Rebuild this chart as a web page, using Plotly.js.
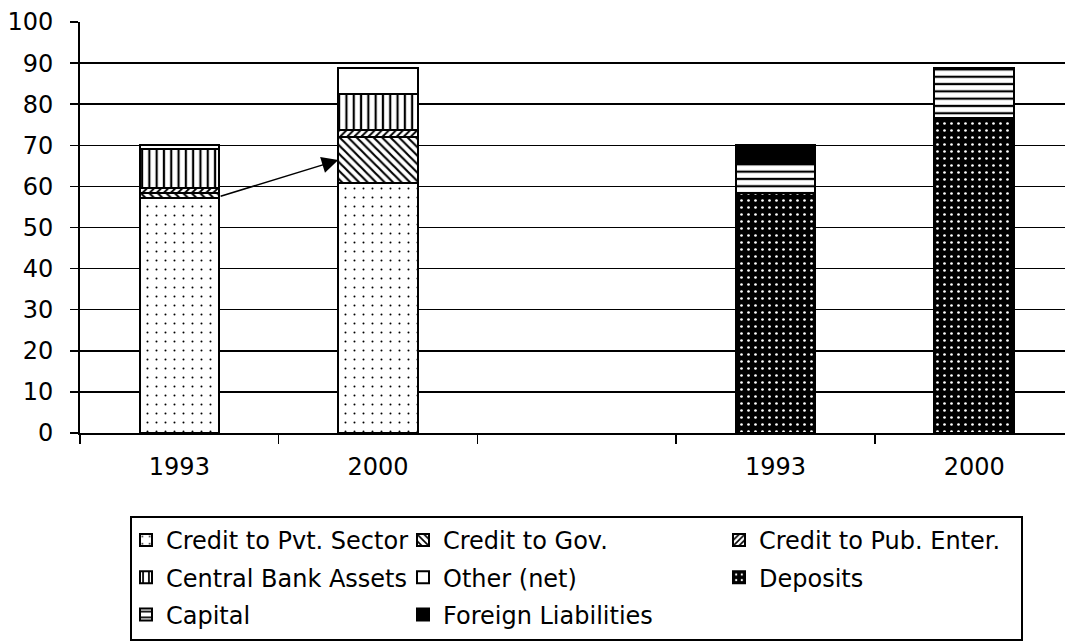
<!DOCTYPE html>
<html>
<head>
<meta charset="utf-8">
<script src="https://cdn.plot.ly/plotly-3.0.1.min.js"></script>
<style>html,body{margin:0;padding:0;background:#fff;overflow:hidden}</style>
</head>
<body>
<div id="chart" style="width:1065px;height:644px"></div>
<script>
// ---- data ----
const categories = ['A1993', 'A2000', 'gap', 'L1993', 'L2000'];
const tickLabels = ['1993', '2000', '', '1993', '2000'];
const assetX = ['A1993', 'A2000'];
const liabX = ['L1993', 'L2000'];

const creditPvt = [57.2, 60.8];
const creditGov = [1.2, 11.2];
const creditPubEnter = [1.3, 1.7];
const centralBankAssets = [9.3, 8.8];
const otherNet = [1.0, 6.3];

const deposits = [58.5, 76.6];
const capital = [7.3, 12.2];
const foreignLiab = [4.2, 0];

const seriesNames = ['Credit to Pvt. Sector', 'Credit to Gov.', 'Credit to Pub. Enter.',
  'Central Bank Assets', 'Other (net)', 'Deposits', 'Capital', 'Foreign Liabilities'];

// ---- styling ----
const FONT = {family: 'DejaVu Sans, Verdana, sans-serif', size: 24, color: '#000'};
const outline = {color: '#000', width: 2};

function bar(name, x, y, bg, pattern, legend, idx) {
  const m = {color: bg, line: outline};
  if (pattern) m.pattern = Object.assign({fillmode: 'replace', bgcolor: bg}, pattern);
  return {type: 'bar', name: name, x: x, y: y, marker: m, width: 0.4,
          legend: legend, legendgroup: 'g' + idx, hoverinfo: 'skip'};
}

const traces = [
  bar(seriesNames[0], assetX, creditPvt, '#fff', {shape: '.', fgcolor: '#000', size: 9, solidity: 0.04}, 'legend', 0),
  bar(seriesNames[1], assetX, creditGov, '#fff', {shape: '\\', fgcolor: '#000', size: 6, solidity: 0.35}, 'legend2', 1),
  bar(seriesNames[2], assetX, creditPubEnter, '#fff', {shape: '/', fgcolor: '#000', size: 5, solidity: 0.4}, 'legend3', 2),
  bar(seriesNames[3], assetX, centralBankAssets, '#fff', {shape: '|', fgcolor: '#000', size: 7.3, solidity: 0.3}, 'legend', 3),
  bar(seriesNames[4], assetX, otherNet, '#fff', null, 'legend2', 4),
  bar(seriesNames[5], liabX, deposits, '#000', {shape: '.', fgcolor: '#fff', size: 7, solidity: 0.12}, 'legend3', 5),
  bar(seriesNames[6], liabX, capital, '#fff', {shape: '-', fgcolor: '#000', size: 7.3, solidity: 0.3}, 'legend', 6),
  bar(seriesNames[7], liabX, foreignLiab, '#000', null, 'legend2', 7)
];

function legendAt(xpx) {
  return {
    x: (xpx - 80) / 985, y: (433 - 518) / 411, xanchor: 'left', yanchor: 'top',
    orientation: 'v', traceorder: 'grouped', tracegroupgap: 3,
    bgcolor: 'rgba(0,0,0,0)', borderwidth: 0, font: FONT, itemclick: false
  };
}

const layout = {
  width: 1065, height: 644,
  margin: {l: 80, r: 0, t: 22, b: 211, autoexpand: false},
  paper_bgcolor: '#fff', plot_bgcolor: '#fff',
  font: FONT,
  barmode: 'stack',
  showlegend: true,
  xaxis: {
    type: 'category', categoryorder: 'array', categoryarray: categories,
    tickmode: 'array', tickvals: categories, ticktext: tickLabels,
    tickson: 'boundaries', ticks: 'outside', ticklen: 9, tickwidth: 1.5, tickcolor: '#000',
    showline: true, linecolor: '#000', linewidth: 1.5, showgrid: false, zeroline: false,
    range: [-0.5, 4.457], ticklabelstandoff: 12, automargin: false, fixedrange: true
  },
  yaxis: {
    range: [0, 100], tick0: 0, dtick: 10, ticks: 'outside', ticklen: 8, tickwidth: 1.5,
    tickcolor: '#000', showline: true, linecolor: '#000', linewidth: 2,
    showgrid: true, gridcolor: '#000', gridwidth: 1.5, zeroline: false,
    ticklabelstandoff: 12, automargin: false, fixedrange: true
  },
  legend: legendAt(126),
  legend2: legendAt(403),
  legend3: legendAt(719),
  shapes: [{
    type: 'rect', xref: 'paper', yref: 'paper',
    x0: (131 - 80) / 985, x1: (1022 - 80) / 985,
    y0: (433 - 517) / 411, y1: (433 - 640) / 411,
    line: {color: '#000', width: 2}, fillcolor: 'rgba(0,0,0,0)', layer: 'above'
  }],
  annotations: [{
    x: 1 - 0.2, y: creditPvt[1] + creditGov[1] / 2,
    ax: 0 + 0.2, ay: creditPvt[0] + creditGov[0] / 4,
    xref: 'x', yref: 'y', axref: 'x', ayref: 'y',
    text: '', showarrow: true, arrowhead: 2, arrowsize: 2.2, arrowwidth: 1.5,
    arrowcolor: '#000', standoff: 0, startstandoff: 0
  }]
};

Plotly.newPlot('chart', traces, layout, {displayModeBar: false, staticPlot: true});
</script>
</body>
</html>
